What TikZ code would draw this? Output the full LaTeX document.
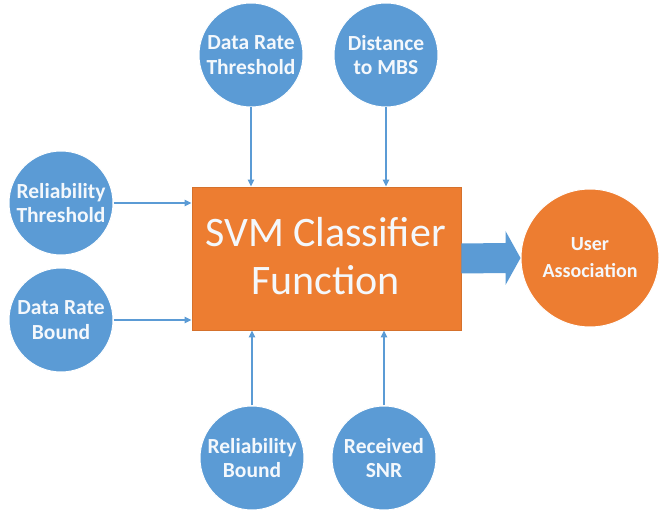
\documentclass[tikz,border=0pt]{standalone}
\usepackage{fontspec}
\setmainfont{Carlito}
\usetikzlibrary{arrows.meta,calc}
\definecolor{cblue}{HTML}{5B9BD5}
\definecolor{corange}{HTML}{ED7D31}
\definecolor{cline}{HTML}{5B9BD5}
\definecolor{ctext}{HTML}{F4F8FC}
\begin{document}
\begin{tikzpicture}[x=1pt,y=-1pt,
  inp/.style={circle, fill=cblue, draw=white, line width=1pt, minimum size=104pt, inner sep=0pt,
    text=ctext, font=\bfseries\fontsize{21.5}{24.5}\selectfont, align=center},
  outp/.style={circle, fill=corange, draw=white, line width=1pt, minimum size=138pt, inner sep=0pt,
    text=ctext, font=\bfseries\fontsize{20}{27}\selectfont, align=center},
  core/.style={rectangle, fill=corange, draw=corange!90!black, line width=0.6pt,
    minimum width=269pt, minimum height=143pt, inner sep=0pt},
  corelbl/.style={text=ctext, font=\fontsize{42}{48}\selectfont, align=center, inner sep=0pt},
  conn/.style={draw=cline, line width=1.8pt, -{Triangle[length=7pt,width=6pt]}}]
\useasboundingbox (0,0) rectangle (659,521);
\node[core] (svm) at (326.5,258.5) {};
\node[corelbl] (svmlbl) at ($(svm.center)+(-1,-2)$) {SVM Classifier\\Function};
\node[inp] (drt) at (251,55) {Data Rate\\Threshold};
\node[inp] (dmbs) at (386,55) {Distance\\to MBS};
\node[inp] (rt) at (61,203) {Reliability\\Threshold};
\node[inp] (drb) at (61,320) {Data Rate\\Bound};
\node[inp] (rb) at (252,458) {Reliability\\Bound};
\node[inp] (snr) at (384,458) {Received\\SNR};
\node[outp] (ua) at (590,258) {User\\Association};
\draw[conn] (drt.south) -- (drt.south |- svm.north);
\draw[conn] (dmbs.south) -- (dmbs.south |- svm.north);
\draw[conn] (rt.east) -- (rt.east -| svm.west);
\draw[conn] (drb.east) -- (drb.east -| svm.west);
\draw[conn] (rb.north) -- (rb.north |- svm.south);
\draw[conn] (snr.north) -- (snr.north |- svm.south);
\fill[cblue] ($(svm.east)+(0,-15)$) -- ($(ua.west)+(-15,-15)$) -- ($(ua.west)+(-15,-27)$)
  -- (ua.west) -- ($(ua.west)+(-15,27)$) -- ($(ua.west)+(-15,15)$)
  -- ($(svm.east)+(0,15)$) -- cycle;
\end{tikzpicture}
\end{document}
